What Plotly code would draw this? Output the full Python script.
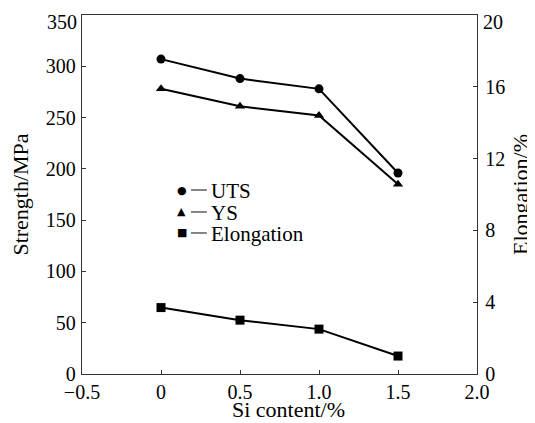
import plotly.graph_objects as go

si = [0, 0.5, 1.0, 1.5]
uts = [307, 288, 278, 196]
ys = [278, 261, 252, 185]
elong = [3.7, 3.0, 2.5, 1.0]

x_ticks = [-0.5, 0, 0.5, 1.0, 1.5, 2.0]
x_ticktext = ["\u22120.5", "0", "0.5", "1.0", "1.5", "2.0"]
y1_ticks = [0, 50, 100, 150, 200, 250, 300, 350]
y2_ticks = [0, 4, 8, 12, 16, 20]
legend_symbols = ["\u25CF", "\u25B2", "\u25A0"]
legend_labels = ["UTS", "YS", "Elongation"]
x_title = "Si content/%"

FONT = "Liberation Serif, Tinos, Times New Roman, DejaVu Serif, serif"
AX = "#333333"

fig = go.Figure()
fig.add_trace(go.Scatter(x=si, y=uts, mode="lines+markers", name="UTS",
                         line=dict(color="black", width=2),
                         marker=dict(symbol="circle", size=9, color="black")))
fig.add_trace(go.Scatter(x=si, y=ys, mode="lines+markers", name="YS",
                         line=dict(color="black", width=2),
                         marker=dict(symbol="triangle-up", size=9, color="black")))
fig.add_trace(go.Scatter(x=si, y=elong, mode="lines+markers", name="Elongation",
                         yaxis="y2",
                         line=dict(color="black", width=2),
                         marker=dict(symbol="square", size=9, color="black")))

# legend drawn as annotations + short line shapes
row_y = [0.5125, 0.4513, 0.3928]
for sym, label, yy in zip(legend_symbols, legend_labels, row_y):
    fig.add_annotation(xref="paper", yref="paper", x=0.253, y=yy, xanchor="center", yanchor="middle",
                       text=sym, showarrow=False, font=dict(family="DejaVu Sans", size=11, color="black"))
    fig.add_shape(type="line", xref="paper", yref="paper", x0=0.276, x1=0.316, y0=yy, y1=yy,
                  line=dict(color="#444444", width=1.3))
    fig.add_annotation(xref="paper", yref="paper", x=0.322, y=yy - 0.004, xanchor="left", yanchor="middle",
                       text=label, showarrow=False, font=dict(family=FONT, size=21, color="black"))

# top tick labels sit slightly below their ticks in the reference
y1_text = [str(v) for v in y1_ticks[:-1]] + [""]
y2_text = [str(v) for v in y2_ticks[:-1]] + [""]
fig.add_annotation(xref="paper", yref="y", x=0, y=y1_ticks[-1], xanchor="right", yanchor="middle",
                   xshift=-3, yshift=-7, text=str(y1_ticks[-1]), showarrow=False,
                   font=dict(family=FONT, size=20, color="black"))
fig.add_annotation(xref="paper", yref="y2", x=1, y=y2_ticks[-1], xanchor="left", yanchor="middle",
                   xshift=4, yshift=-7, text=str(y2_ticks[-1]), showarrow=False,
                   font=dict(family=FONT, size=20, color="black"))
# x-axis title
fig.add_annotation(xref="paper", yref="paper", x=0.523, y=0, xanchor="center", yanchor="middle",
                   yshift=-35, text=x_title, showarrow=False,
                   font=dict(family=FONT, size=22, color="black"))

# page body has an 8px default margin, so the figure is shifted by 8px
fig.update_layout(
    width=527, height=415,
    margin=dict(l=74, r=58, t=7, b=49),
    paper_bgcolor="white", plot_bgcolor="white",
    showlegend=False,
    font=dict(family=FONT, size=20, color="black"),
    xaxis=dict(range=[-0.5, 2.0], tickvals=x_ticks, ticktext=x_ticktext, automargin=False,
               ticks="inside", ticklen=4, tickcolor=AX, showgrid=False, zeroline=False,
               showline=True, linecolor=AX, linewidth=1.3, mirror=True, ticklabelstandoff=0,
               ticklabeloverflow="allow"),
    yaxis=dict(range=[0, 350], tickvals=y1_ticks, ticktext=y1_text, automargin=False,
               ticks="inside", ticklen=4, tickcolor=AX, showgrid=False, zeroline=False,
               showline=True, linecolor=AX, linewidth=1.3, ticklabelstandoff=1,
               ticklabeloverflow="allow",
               title=dict(text="Strength/MPa", font=dict(family=FONT, size=22), standoff=12)),
    yaxis2=dict(range=[0, 20], tickvals=y2_ticks, ticktext=y2_text, overlaying="y", side="right",
                automargin=False,
                ticks="inside", ticklen=4, tickcolor=AX, showgrid=False, zeroline=False,
                showline=True, linecolor=AX, linewidth=1.3, ticklabelstandoff=3,
                ticklabeloverflow="allow",
                title=dict(text="Elongation/%", font=dict(family=FONT, size=22), standoff=8)),
)

fig.write_html("out.html")
